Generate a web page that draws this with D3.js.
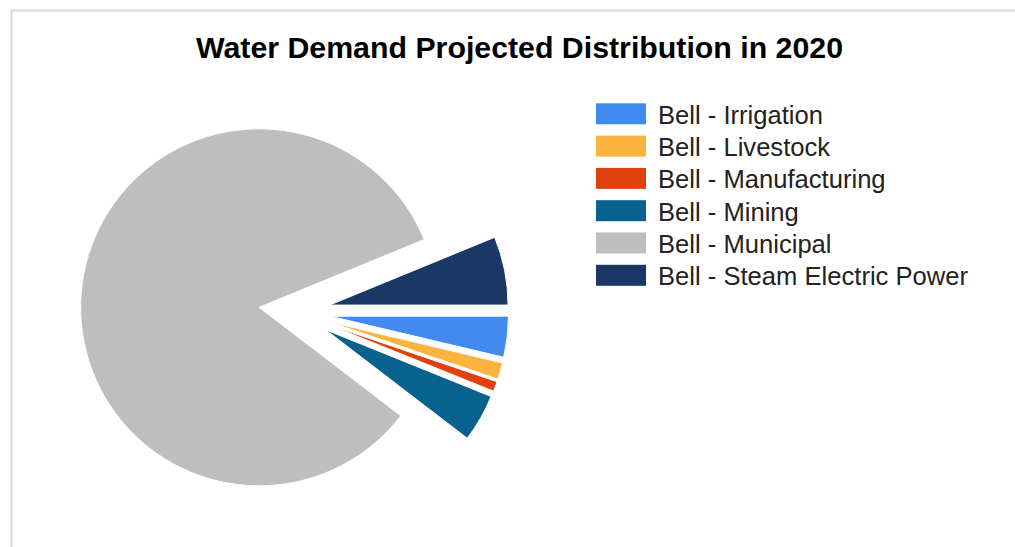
<!DOCTYPE html>
<html>
<head>
<meta charset="utf-8">
<script src="https://cdn.jsdelivr.net/npm/d3@7"></script>
<style>
  html, body { margin: 0; padding: 0; background: #fff; }
  svg { display: block; }
</style>
</head>
<body>
<svg id="chart" width="1015" height="547"></svg>
<script>
// Data (share of projected 2020 water demand, %)
const categories = ["Bell - Irrigation", "Bell - Livestock", "Bell - Manufacturing", "Bell - Mining", "Bell - Municipal", "Bell - Steam Electric Power"];
const values = [3.7, 1.5, 0.9, 4.3, 83.4, 6.2];
const colors = ["#418BF0", "#FDB43F", "#DF420C", "#08628E", "#BEBEBE", "#1B3765"];
const title = "Water Demand Projected Distribution in 2020";

const W = 1015, H = 547;
const svg = d3.select("#chart");

// frame border
svg.append("path")
  .attr("d", `M11.5,${H} L11.5,10.5 L${W},10.5`)
  .attr("fill", "none").attr("stroke", "#d9d9d9").attr("stroke-width", 2);

// title
svg.append("text")
  .attr("x", 519.5).attr("y", 58)
  .attr("text-anchor", "middle")
  .attr("font-family", "Liberation Sans, Arial, sans-serif")
  .attr("font-weight", "bold")
  .attr("font-size", 30.3)
  .attr("fill", "#000")
  .text(title);

// pie
const cx = 294.5, cy = 312, r = 178.5, explode = 0.2 * r;
const pie = d3.pie().sort(null).value(d => d.v)
  .startAngle(Math.PI / 2).endAngle(Math.PI / 2 + 2 * Math.PI);
const arc = d3.arc().innerRadius(0).outerRadius(r);
const data = categories.map((c, i) => ({ c, v: values[i], col: colors[i] }));
const arcs = pie(data);

const g = svg.append("g").attr("transform", `translate(${cx},${cy})`);
g.selectAll("path").data(arcs).enter().append("path")
  .attr("d", arc)
  .attr("fill", d => d.data.col)
  .attr("stroke", "#fff").attr("stroke-width", 1)
  .attr("transform", d => {
    const a = (d.startAngle + d.endAngle) / 2;
    return `translate(${explode * Math.sin(a)},${-explode * Math.cos(a)})`;
  });

// legend
const lg = svg.append("g");
const rowH = 32.3, ly0 = 103.3;
const items = lg.selectAll("g").data(data).enter().append("g")
  .attr("transform", (d, i) => `translate(596,${ly0 + i * rowH})`);
items.append("rect").attr("width", 50).attr("height", 21).attr("fill", d => d.col);
items.append("text")
  .attr("x", 62).attr("y", 20.3)
  .attr("font-family", "Liberation Sans, Arial, sans-serif")
  .attr("font-size", 25.6)
  .attr("fill", "#222")
  .text(d => d.c);
</script>
</body>
</html>
